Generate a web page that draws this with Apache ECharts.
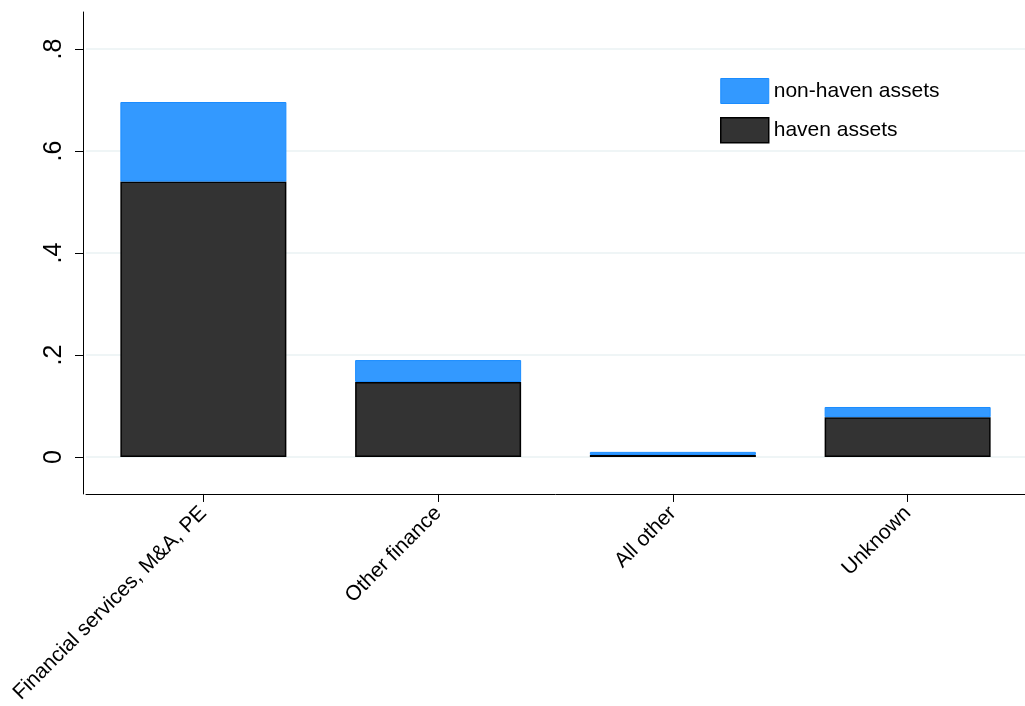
<!DOCTYPE html>
<html>
<head>
<meta charset="utf-8">
<script src="https://cdn.jsdelivr.net/npm/echarts@6/dist/echarts.min.js"></script>
<style>
html,body{margin:0;padding:0;background:#fff;}
#chart{width:1025px;height:706px;}
</style>
</head>
<body>
<div id="chart"></div>
<script>
const categories = ['Financial services, M&A, PE', 'Other finance', 'All other', 'Unknown'];
const havenAssets = [0.540, 0.147, 0.004, 0.078];
const nonHavenAssets = [0.156, 0.043, 0.006, 0.020];
const yTicks = [0, 0.2, 0.4, 0.6, 0.8];

const chart = echarts.init(document.getElementById('chart'), null, {renderer: 'canvas'});
const font = 'Liberation Sans, Arial, Helvetica, sans-serif';
chart.setOption({
  animation: false,
  backgroundColor: '#ffffff',
  textStyle: {fontFamily: font},
  grid: {left: 86, top: 12, width: 946, bottom: 212, containLabel: false},
  legend: {
    orient: 'vertical', left: 720, top: 78, padding: 0,
    itemWidth: 48, itemHeight: 25, itemGap: 13,
    textStyle: {fontSize: 21, color: '#000', fontFamily: font},
    data: [
      {name: 'non-haven assets', icon: 'rect', itemStyle: {color: '#3399FF', borderColor: '#1A8CFF', borderWidth: 1}},
      {name: 'haven assets', icon: 'rect', itemStyle: {color: '#333333', borderColor: '#000000', borderWidth: 1.5}}
    ]
  },
  xAxis: {
    type: 'category', data: categories, boundaryGap: true,
    axisLine: {show: true, onZero: false, lineStyle: {color: '#000', width: 1}},
    axisTick: {show: true, alignWithLabel: true, length: 8, lineStyle: {color: '#000'}},
    axisLabel: {rotate: 45, interval: 0, margin: 16, fontSize: 21, color: '#000', fontFamily: font},
    splitLine: {show: false}
  },
  yAxis: {
    type: 'value', min: -0.0725, max: 0.8725, offset: 3,
    axisLine: {show: true, lineStyle: {color: '#000', width: 1}},
    axisTick: {show: true, length: 8, customValues: yTicks, lineStyle: {color: '#000'}},
    axisLabel: {
      rotate: 90, margin: 16, fontSize: 25, color: '#000', fontFamily: font,
      customValues: yTicks,
      formatter: v => v === 0 ? '0' : String(+v.toFixed(2)).replace(/^0/, '')
    },
    splitLine: {show: true, lineStyle: {color: '#EAF2F3', width: 1.5}}
  },
  series: [
    {
      name: 'haven assets', type: 'bar', stack: 'total', data: havenAssets, barWidth: 166,
      itemStyle: {color: '#333333', borderColor: '#000000', borderWidth: 1.5}
    },
    {
      name: 'non-haven assets', type: 'bar', stack: 'total', data: nonHavenAssets, barWidth: 166,
      itemStyle: {color: '#3399FF', borderColor: '#1A8CFF', borderWidth: 1}
    }
  ]
});
</script>
</body>
</html>
